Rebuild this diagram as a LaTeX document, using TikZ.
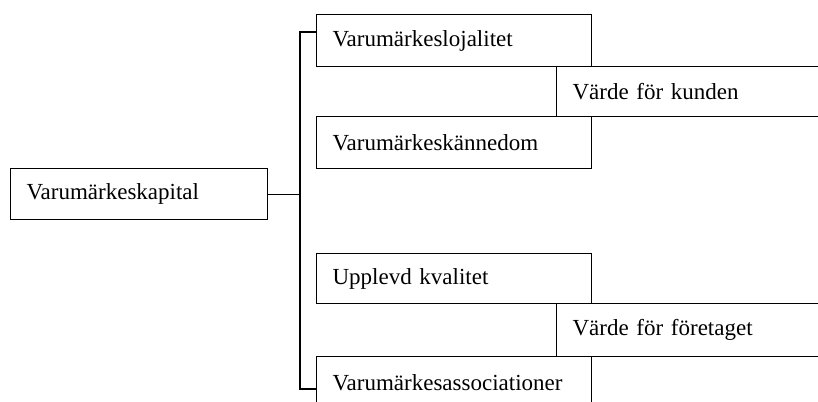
\documentclass[tikz,border=0pt]{standalone}
\usepackage{fontspec}
\setmainfont{Liberation Serif}
\usepackage{tikz}
\usetikzlibrary{positioning}

\tikzset{%
  box/.style={draw, line width=1.2pt, anchor=north west, inner xsep=16pt,
    inner ysep=0pt, align=left, minimum height=52pt,
    font=\fontsize{23}{27}\selectfont},
  link/.style={line width=1.2pt}
}

\begin{document}
\begin{tikzpicture}[x=1pt,y=-1pt]
        \useasboundingbox (0,0) rectangle (818,401);
        \clip (0,0) rectangle (818,401);
        \node [box, text width=225pt, minimum height=51pt] (kapital) at (10,168) {Varumärkeskapital};
        % kundsidan
        \node [box, text width=243pt] (lojalitet) at (316,14) {Varumärkeslojalitet};
        \node [box, text width=280pt, minimum height=50pt] (kunden) at (556,66) {Värde för kunden};
        \node [box, text width=243pt] (kannedom) at (316,116) {Varumärkeskännedom};
        % företagssidan
        \node [box, text width=243pt, minimum height=50pt] (kvalitet) at (316,253) {Upplevd kvalitet};
        \node [box, text width=280pt, minimum height=53pt] (foretaget) at (556,303) {Värde för företaget};
        \node [box, text width=243pt] (assoc) at (316,356) {Varumärkesassociationer};
        % förbindelser
        \draw [link] (kapital.east) -- ++(33,0);
        \draw [link] ([yshift=-18pt]lojalitet.north west) -- ++(-16,0)
          |- ([yshift=-33pt]assoc.north west);
      \end{tikzpicture}
\end{document}
